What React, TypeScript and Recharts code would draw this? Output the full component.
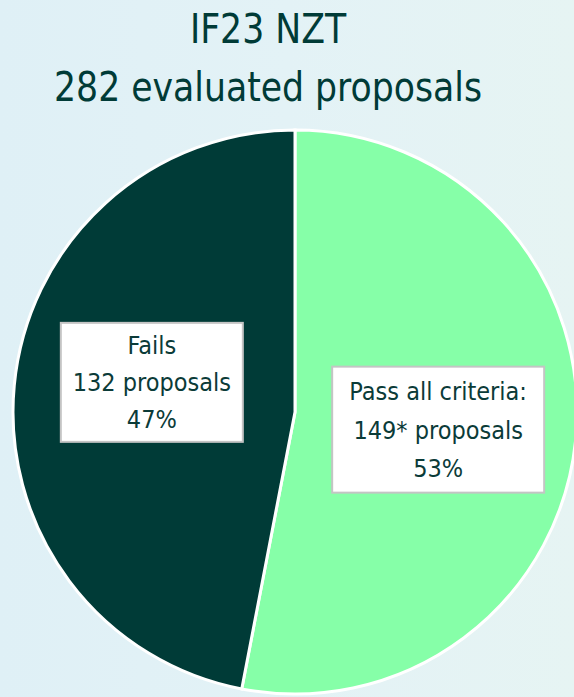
import React from "react";
import { PieChart, Pie, Cell } from "recharts";

const categories = ["Pass all criteria:", "Fails"];
const counts = [149, 132];
const countLabels = ["149* proposals", "132 proposals"];
const shares = ["53%", "47%"];
const colors = ["#86ffa8", "#003b37"];

const data = categories.map((name, i) => ({
  name,
  value: counts[i],
  countLabel: countLabels[i],
  share: shares[i],
}));

const FONT = "'DejaVu Sans Condensed', 'DejaVu Sans', sans-serif";
const TEXT = "#0b3b38";
const RADIAN = Math.PI / 180;

function renderLabel(props: any) {
  const { cx, cy, midAngle, outerRadius, index, payload } = props;
  const r = outerRadius * 0.51;
  const x = cx + r * Math.cos(-midAngle * RADIAN);
  const y = cy + r * Math.sin(-midAngle * RADIAN) + (index === 1 ? -16 : 4);
  const w = index === 0 ? 212 : 182;
  const h = index === 0 ? 126 : 119;
  const gap = index === 0 ? 38.5 : 37;
  const lines = [payload.name, payload.countLabel, payload.share];
  return (
    <g key={`lbl-${index}`}>
      <rect
        x={x - w / 2}
        y={y - h / 2}
        width={w}
        height={h}
        fill="#ffffff"
        stroke="#c4c4c4"
        strokeWidth={2}
      />
      {lines.map((t, i) => (
        <text
          key={i}
          x={x}
          y={y + (i - 1) * gap + 9}
          textAnchor="middle"
          fill={TEXT}
          fontFamily={FONT}
          fontSize={25}
        >
          {t}
        </text>
      ))}
    </g>
  );
}

export default function App() {
  return (
    <div
      style={{
        position: "absolute",
        left: 0,
        top: 0,
        width: 574,
        height: 697,
        overflow: "hidden",
        background: "linear-gradient(90deg, #dff0f6 0%, #e3f2f6 50%, #e6f4f3 100%)",
      }}
    >
      <div
        style={{
          position: "absolute",
          left: 0,
          top: 0,
          width: 536,
          textAlign: "center",
          fontFamily: FONT,
          color: "#003b37",
          fontSize: 41,
          lineHeight: "58px",
          transform: "scaleX(0.94)",
          transformOrigin: "268px 0",
        }}
      >
        <div>IF23 NZT</div>
        <div>282 evaluated proposals</div>
      </div>
      <div style={{ position: "absolute", left: 0, top: 0 }}>
        <PieChart width={574} height={697} margin={{ top: 0, right: 0, bottom: 0, left: 0 }}>
          <Pie
            data={data}
            dataKey="value"
            nameKey="name"
            cx={295}
            cy={412}
            outerRadius={282}
            startAngle={90}
            endAngle={-270}
            stroke="#ffffff"
            strokeWidth={3}
            labelLine={false}
            label={renderLabel}
            isAnimationActive={false}
          >
            {data.map((d, i) => (
              <Cell key={d.name} fill={colors[i]} />
            ))}
          </Pie>
        </PieChart>
      </div>
    </div>
  );
}
